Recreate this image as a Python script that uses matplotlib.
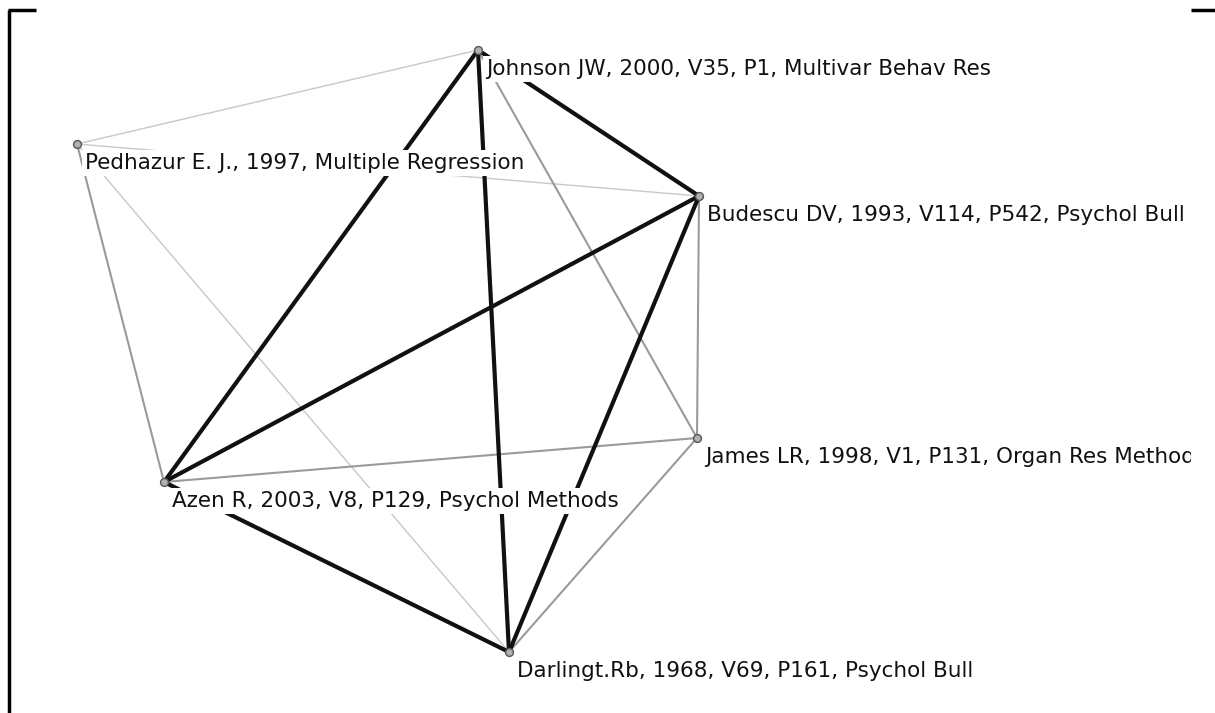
import matplotlib
matplotlib.use("Agg")
import matplotlib.pyplot as plt
from matplotlib.lines import Line2D

# ---- data ----
node_names = [
    "Johnson JW, 2000, V35, P1, Multivar Behav Res",
    "Pedhazur E. J., 1997, Multiple Regression",
    "Budescu DV, 1993, V114, P542, Psychol Bull",
    "James LR, 1998, V1, P131, Organ Res Methods",
    "Azen R, 2003, V8, P129, Psychol Methods",
    "Darlingt.Rb, 1968, V69, P161, Psychol Bull",
]
node_x = [478, 77, 699, 697, 164, 509]
node_y = [50, 144, 196, 438, 482, 652]

# edges: (source index, target index, strength 1=weak, 2=medium, 3=strong)
edge_src = [0, 1, 1, 1, 0, 2, 4, 3, 0, 0, 0, 2, 2, 4]
edge_dst = [1, 2, 5, 4, 3, 3, 3, 5, 4, 5, 2, 4, 5, 5]
edge_strength = [1, 1, 1, 2, 2, 2, 2, 2, 3, 3, 3, 3, 3, 3]

# ---- style ----
W, H = 1215, 713
fig = plt.figure(figsize=(W / 100, H / 100), dpi=100)
fig.patch.set_facecolor("white")

clip_right = 1191
ax = fig.add_axes([0, 0, clip_right / W, 1])
ax.set_xlim(0, clip_right)
ax.set_ylim(H, 0)
ax.axis("off")

styles = {
    1: dict(color="#c8c8c8", lw=1.0, zorder=1),
    2: dict(color="#9a9a9a", lw=1.5, zorder=2),
    3: dict(color="#111111", lw=3.0, zorder=3),
}
for s, t, w in zip(edge_src, edge_dst, edge_strength):
    st = styles[w]
    ax.plot([node_x[s], node_x[t]], [node_y[s], node_y[t]],
            color=st["color"], lw=st["lw"], zorder=st["zorder"],
            solid_capstyle="round")

for name, x, y in zip(node_names, node_x, node_y):
    ax.text(x + 8, y + 25, name, fontsize=15.5, family="DejaVu Sans",
            ha="left", va="baseline", color="#111111", zorder=5,
            bbox=dict(facecolor="white", edgecolor="none", pad=2.5),
            clip_on=True)

ax.scatter(node_x, node_y, s=32, facecolor="#b0b0b0", edgecolor="#555555",
           linewidths=1.0, zorder=6)

# window-like frame lines (figure pixel coords)
bg = fig.add_axes([0, 0, 1, 1], zorder=10)
bg.set_xlim(0, W)
bg.set_ylim(H, 0)
bg.axis("off")
bg.patch.set_alpha(0)
bg.add_line(Line2D([9, 9], [10, H], color="black", lw=2.5, solid_capstyle="butt"))
bg.add_line(Line2D([8, 36], [10, 10], color="black", lw=2.5, solid_capstyle="butt"))
bg.add_line(Line2D([1191, 1215], [10, 10], color="black", lw=2.5, solid_capstyle="butt"))

fig.savefig("out.png", dpi=100, facecolor="white")
